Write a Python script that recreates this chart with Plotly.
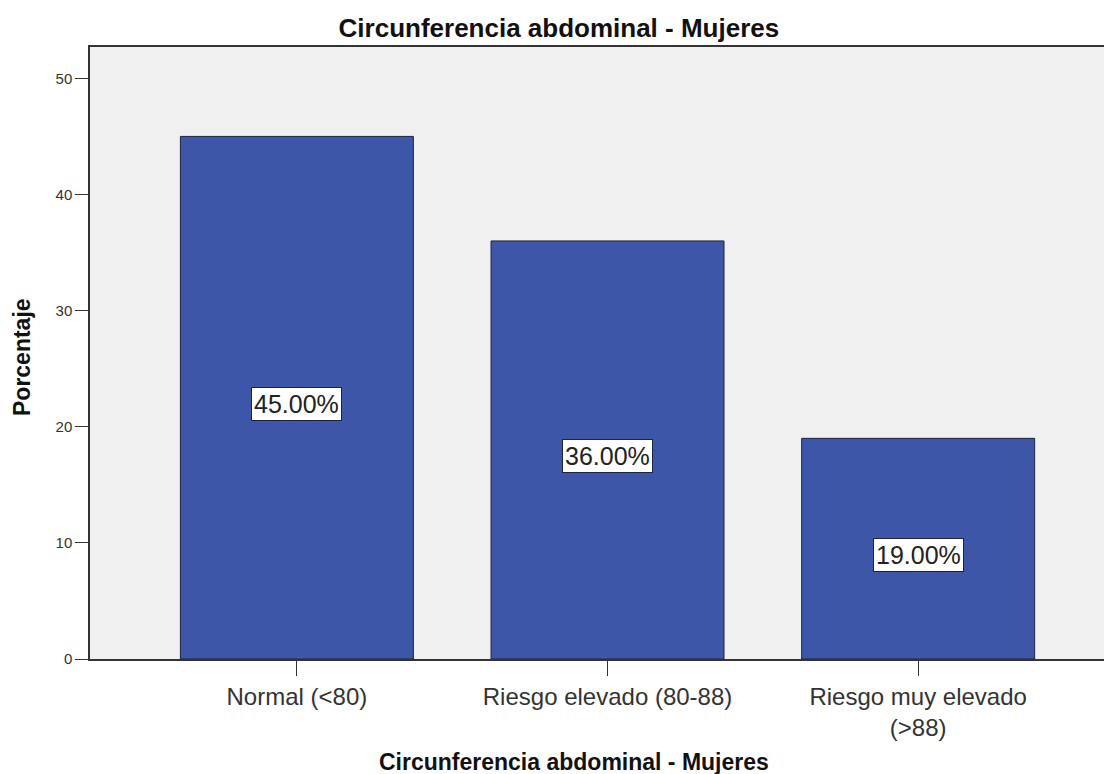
import plotly.graph_objects as go

# Data
categorias = ['Normal (<80)', 'Riesgo elevado (80-88)', 'Riesgo muy elevado<br>(>88)']
porcentajes = [45.0, 36.0, 19.0]
etiquetas = ['45.00%', '36.00%', '19.00%']
y_ticks = [0, 10, 20, 30, 40, 50]

FONT = 'Liberation Sans, Arial, sans-serif'

fig = go.Figure(go.Bar(
    x=categorias,
    y=porcentajes,
    width=0.75,
    marker=dict(color='#3D56A8', line=dict(color='#1C2440', width=1)),
    hoverinfo='skip',
))

# White boxed labels at the middle of each bar
for cat, val, lab in zip(categorias, porcentajes, etiquetas):
    fig.add_annotation(
        x=cat, y=val / 2, text=lab, showarrow=False, yshift=-6,
        font=dict(family=FONT, size=25, color='#222222'),
        bgcolor='white', bordercolor='#1C2440', borderwidth=1, borderpad=2,
    )

# Axis titles placed as annotations for exact position
fig.add_annotation(
    xref='paper', yref='paper', x=0.4736, y=0, yshift=-103,
    text='<b>Circunferencia abdominal - Mujeres</b>', showarrow=False,
    xanchor='center', yanchor='middle',
    font=dict(family=FONT, size=23, color='#111111'),
)
fig.add_annotation(
    xref='paper', yref='paper', x=-0.0665, y=0.4935,
    text='<b>Porcentaje</b>', showarrow=False, textangle=-90,
    xanchor='center', yanchor='middle',
    font=dict(family=FONT, size=23, color='#111111'),
)

# page body has an 8px margin, so the figure is 8px smaller than the window
fig.update_layout(
    width=1104,
    height=766,
    margin=dict(l=82, r=0, t=39, b=115),
    paper_bgcolor='white',
    plot_bgcolor='#F0F0F0',
    font=dict(family=FONT, color='#222222'),
    title=dict(
        text='<b>Circunferencia abdominal - Mujeres</b>',
        x=0.499, xanchor='center', y=0.974, yanchor='middle',
        font=dict(family=FONT, size=26, color='#111111'),
    ),
    showlegend=False,
)

fig.update_xaxes(
    range=[-0.666, 2.624],
    showline=True, linecolor='#333333', linewidth=1.5, mirror=True,
    ticks='outside', ticklen=15, tickcolor='#333333',
    tickfont=dict(family=FONT, size=24, color='#333333'),
    showgrid=False,
)

fig.update_yaxes(
    range=[0, 52.7],
    tickvals=y_ticks,
    showline=True, linecolor='#333333', linewidth=1.5,
    ticks='outside', ticklen=13, tickcolor='#333333',
    tickfont=dict(family=FONT, size=15, color='#333333'),
    showgrid=False, zeroline=False,
)

fig.write_html('out.html')
